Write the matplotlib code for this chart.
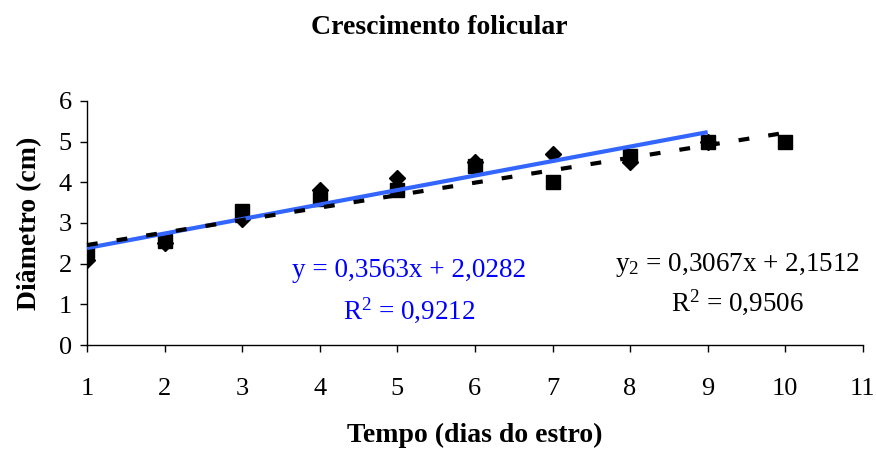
"""Crescimento folicular: diâmetro por dia do estro, com linhas de tendência."""
import matplotlib
matplotlib.use("Agg")
import matplotlib.pyplot as plt

plt.rcParams["font.family"] = ["Liberation Serif", "DejaVu Serif"]
plt.rcParams["mathtext.fontset"] = "custom"
plt.rcParams["mathtext.rm"] = "Liberation Serif"
plt.rcParams["mathtext.it"] = "Liberation Serif:italic"
plt.rcParams["mathtext.bf"] = "Liberation Serif:bold"

# medições (cm)
dias_a = [1, 2, 3, 4, 5, 6, 7, 8, 9]
diam_a = [2.1, 2.5, 3.1, 3.8, 4.1, 4.5, 4.7, 4.5, 5.0]
dias_b = [1, 2, 3, 4, 5, 6, 7, 8, 9, 10]
diam_b = [2.3, 2.55, 3.3, 3.6, 3.8, 4.4, 4.0, 4.65, 5.0, 5.0]

# coeficientes das linhas de tendência
coef_a = (0.3563, 2.0282)
r2_a = 0.9212
coef_b = (0.3067, 2.1512)
r2_b = 0.9506

x_ticks = list(range(1, 12))
y_ticks = list(range(0, 7))

fig = plt.figure(figsize=(8.76, 4.5), dpi=100)
ax = fig.add_axes([0.0993, 0.2333, 0.8857, 0.5423])

ax.plot(dias_a, diam_a, linestyle="none", marker="D", markersize=8,
        color="black", zorder=3)
ax.plot(dias_b, diam_b, linestyle="none", marker="s", markersize=10,
        color="black", zorder=4)

fit_a = [coef_a[0] * d + coef_a[1] for d in (dias_a[0], dias_a[-1])]
fit_b = [coef_b[0] * d + coef_b[1] for d in (dias_b[0], dias_b[-1])]
ax.plot((dias_a[0], dias_a[-1]), fit_a, color="#3366ff", lw=3,
        solid_capstyle="butt", zorder=5, clip_on=False)
ax.plot((dias_b[0], dias_b[-1]), fit_b, color="black", lw=3,
        dashes=(2.6, 4.6), dash_capstyle="butt", zorder=6, clip_on=False)

fmt = lambda v: f"{v:.4f}".replace(".", ",")
eq_size = 19.5
ax.text(5.15, 1.84, f"y = {fmt(coef_a[0])}x + {fmt(coef_a[1])}",
        color="#0000ff", fontsize=eq_size, ha="center", va="center")
ax.text(5.15, 0.86, f"R$^2$ = {fmt(r2_a)}",
        color="#0000ff", fontsize=eq_size, ha="center", va="center")
ax.text(9.39, 1.97, f"y$_2$ = {fmt(coef_b[0])}x + {fmt(coef_b[1])}",
        color="black", fontsize=eq_size, ha="center", va="center")
ax.text(9.39, 1.06, f"R$^2$ = {fmt(r2_b)}",
        color="black", fontsize=eq_size, ha="center", va="center")

ax.set_xlim(1, 11)
ax.set_ylim(0, 6)
ax.set_xticks(x_ticks)
ax.set_yticks(y_ticks)
ax.tick_params(axis="x", direction="out", length=5, width=1, pad=19,
               labelsize=19)
ax.tick_params(axis="y", direction="out", length=5, width=1, pad=6,
               labelsize=19)
for side in ("top", "right"):
    ax.spines[side].set_visible(False)
for side in ("left", "bottom"):
    ax.spines[side].set_linewidth(1)

ax.set_xlabel("Tempo (dias do estro)", fontsize=20, fontweight="bold",
              labelpad=16)
ax.set_ylabel("Diâmetro (cm)", fontsize=20, fontweight="bold", labelpad=12)
fig.text(0.502, 0.938, "Crescimento folicular", fontsize=20,
         fontweight="bold", ha="center", va="center")

fig.savefig("out.png", dpi=100)
